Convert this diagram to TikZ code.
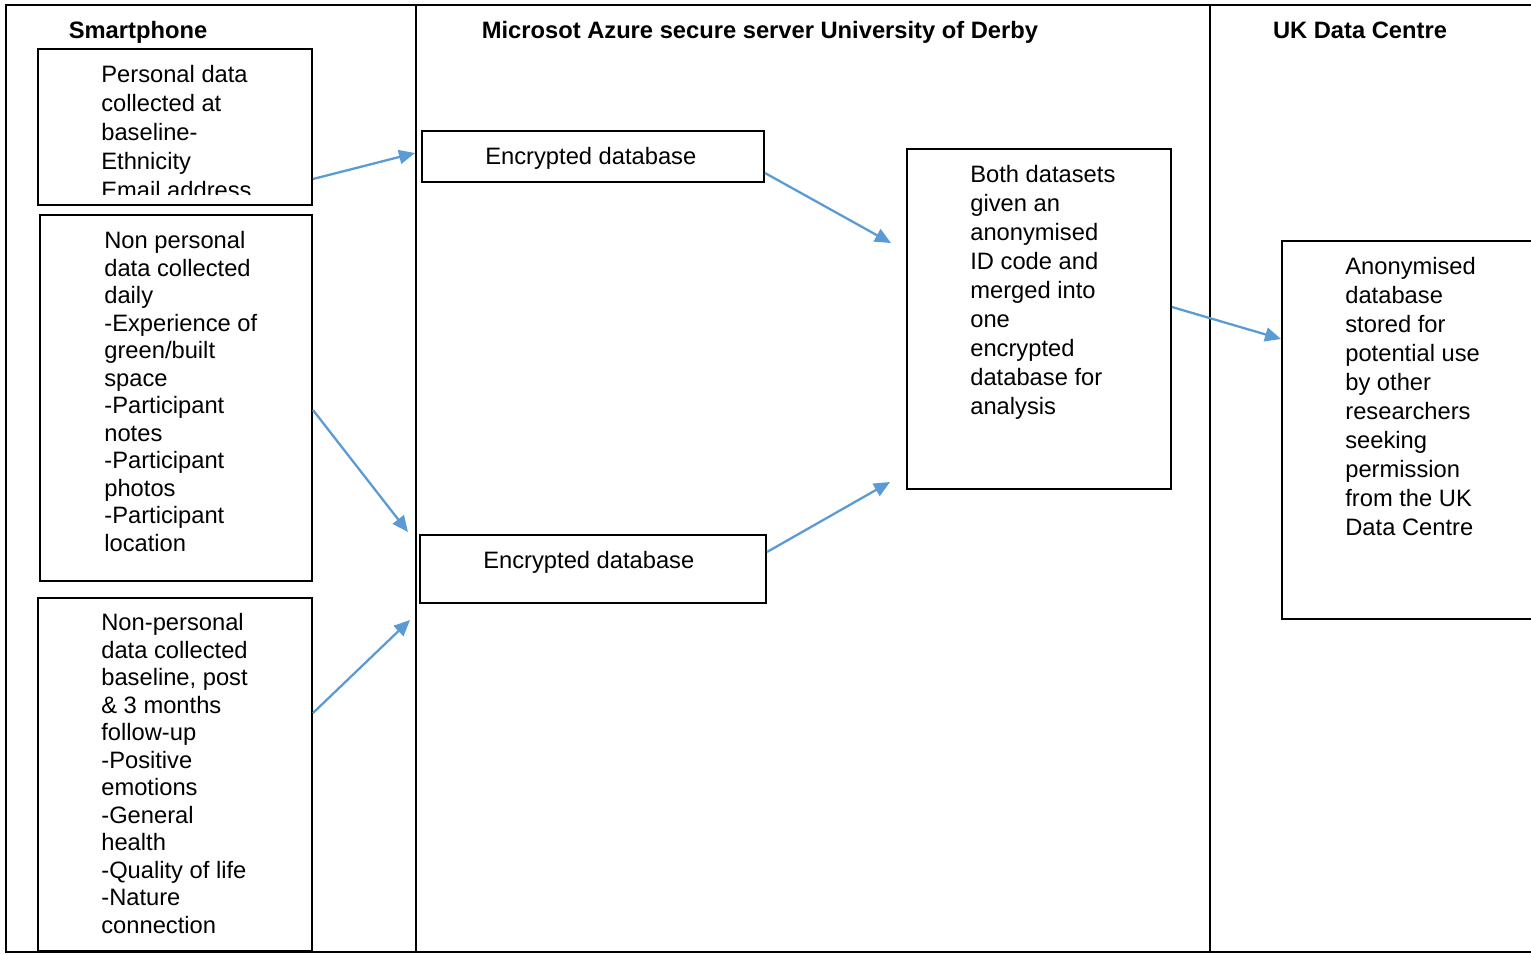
\documentclass[tikz,border=0pt]{standalone}
\usepackage{fontspec}
\setmainfont{Liberation Sans}
\usepackage{tikz}
\usetikzlibrary{positioning,fit,arrows.meta}
\definecolor{arrowblue}{RGB}{91,155,213}
\tikzset{
	box/.style={draw, line width=1.1pt, inner sep=0pt},
	frame/.style={line width=1.1pt},
	txt/.style={anchor=north west, align=left, inner sep=0pt, font=\fontsize{13.5}{16.5}\selectfont},
	txt tight/.style={txt, font=\fontsize{13.5}{15.65}\selectfont},
	head/.style={anchor=base, inner sep=0pt, font=\fontsize{13.5}{16.5}\selectfont\bfseries},
	flow/.style={->, draw=arrowblue, fill=arrowblue, line width=1.3pt}
}
\begin{document}
\begin{tikzpicture}[x=0.02cm, y=-0.02cm, >={Triangle[length=0.32cm, width=0.28cm]}]
		\useasboundingbox (0,0) rectangle (1531,954);
		
		\draw [frame] (1545,5) -- (6,5) -- (6,952) -- (1545,952);
		\foreach \x in {416,1210}
		\draw [frame] (\x,5) -- (\x,952);
		
		\foreach \x/\l in {138/Smartphone, 760/Microsot Azure secure server University of Derby, 1360/UK Data Centre}
		\node [head] at (\x,38) {\l};
		
		\foreach \n/\a/\b/\c/\d in {personal/38/49/312/205, daily/40/215/312/581, baseline/38/598/312/951, enc-1/422/131/764/182, enc-2/420/535/766/603, merged/907/149/1171/489, anon/1282/241/1550/619}
		\node [box, fit={(\a,\b) (\c,\d)}] (\n) {};
		
		\begin{scope}
			\clip (38,49) rectangle (312,194);
			\node [txt] (personal-text) at (101,65) {Personal data\\collected at\\baseline-\\Ethnicity\\Email address};
		\end{scope}
		
		\node [txt tight] (daily-text) at (104,231) {Non personal\\data collected\\daily\\-Experience of\\green/built\\space\\-Participant\\notes\\-Participant\\photos\\-Participant\\location};
		\node [txt tight] (baseline-text) at (101,613) {Non-personal\\data collected\\baseline, post\\\& 3 months\\follow-up\\-Positive\\emotions\\-General\\health\\-Quality of life\\-Nature\\connection};
		\node [txt] (enc-1-text) at (485,147) {Encrypted database};
		\node [txt] (enc-2-text) at (483,551) {Encrypted database};
		\node [txt] (merged-text) at (970,165) {Both datasets\\given an\\anonymised\\ID code and\\merged into\\one\\encrypted\\database for\\analysis};
		\node [txt] (anon-text) at (1345,257) {Anonymised\\database\\stored for\\potential use\\by other\\researchers\\seeking\\permission\\from the UK\\Data Centre};
		
		\coordinate (to-enc-1) at (415,153);
		\coordinate (to-enc-2a) at (408,532);
		\coordinate (to-enc-2b) at (410,620);
		\coordinate (to-merged-a) at (891,243);
		\coordinate (to-merged-b) at (890,482);
		
		\draw [flow] (personal.east |- 0,179) -- (to-enc-1);
		\draw [flow] (daily.east |- 0,410) -- (to-enc-2a);
		\draw [flow] (baseline.east |- 0,713) -- (to-enc-2b);
		\draw [flow] (enc-1.east |- 0,173) -- (to-merged-a);
		\draw [flow] (enc-2.east |- 0,552) -- (to-merged-b);
		\draw [flow] (merged.east |- 0,307) -- (anon.west |- 0,339);
		
	\end{tikzpicture}
\end{document}
